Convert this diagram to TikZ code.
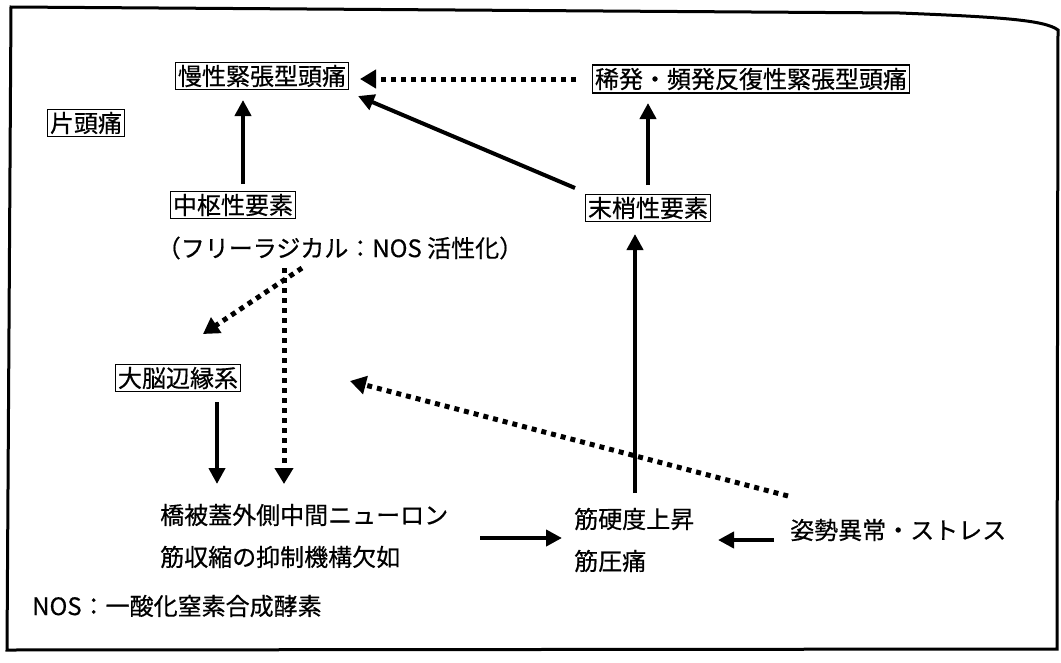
\documentclass[tikz,border=0pt]{standalone}
\usepackage{fontspec}
\setmainfont{Noto Sans CJK JP}[FakeBold=0.5]
\usetikzlibrary{arrows.meta}
\tikzset{
  txt/.style={inner sep=2pt, font=\fontsize{24}{42}\selectfont},
  boxed/.style={txt, draw, line width=1.8pt, inner sep=2.5pt},
  solidarrow/.style={line width=4pt, -{Triangle[length=16pt,width=16pt]}},
  dotarrow/.style={line width=5pt, dash pattern=on 5pt off 5pt, -{Triangle[length=16pt,width=18pt]}},
}
\begin{document}
\begin{tikzpicture}[x=1pt,y=-1pt]
\useasboundingbox (0,0) rectangle (1061,662);
\fill[white] (0,0) rectangle (1061,662);
\draw[line width=3pt] (11,7) -- (900,13) .. controls (1000,17) and (1045,20) .. (1058,30) -- (1057,649) -- (7,650) -- cycle;

\node[boxed] (chronic) at (262,76) {慢性緊張型頭痛};
\node[boxed] (episodic) at (751,79) {稀発・頻発反復性緊張型頭痛};
\node[boxed] (migraine) at (86,123) {片頭痛};
\node[boxed] (central) at (233,205) {中枢性要素};
\node[txt] (radical) at (340,248) {（フリーラジカル：NOS 活性化）};
\node[boxed] (peripheral) at (648,208) {末梢性要素};
\node[boxed] (limbic) at (178,378) {大脳辺縁系};
\node[txt, align=left, anchor=west] (pons) at (158,536) {橋被蓋外側中間ニューロン\\ 筋収縮の抑制機構欠如};
\node[txt, align=left, anchor=west] (muscle) at (572,540) {筋硬度上昇\\ 筋圧痛};
\node[txt, anchor=west] (posture) at (788,530) {姿勢異常・ストレス};
\node[txt, anchor=west] (nos) at (30,606) {NOS：一酸化窒素合成酵素};

\coordinate (c1) at (243,184);
\coordinate (c2) at (243,100);
\draw[solidarrow] (c1) -- (c2);
\coordinate (p1) at (575,188);
\coordinate (p2) at (358,96);
\draw[solidarrow] (p1) -- (p2);
\coordinate (d1) at (576,79);
\coordinate (d2) at (360,79);
\draw[dotarrow] (d1) -- (d2);
\coordinate (e1) at (648,185);
\coordinate (e2) at (648,103);
\draw[solidarrow] (e1) -- (e2);
\coordinate (m1) at (635,493);
\coordinate (m2) at (635,234);
\draw[solidarrow] (m1) -- (m2);
\coordinate (r1) at (302,268);
\coordinate (r2) at (203,334);
\draw[dotarrow] (r1) -- (r2);
\coordinate (r3) at (284,268);
\coordinate (r4) at (284,484);
\draw[dotarrow] (r3) -- (r4);
\coordinate (l1) at (217,402);
\coordinate (l2) at (217,484);
\draw[solidarrow] (l1) -- (l2);
\coordinate (s1) at (788,496);
\coordinate (s2) at (350,381);
\draw[dotarrow] (s1) -- (s2);
\coordinate (h1) at (480,538);
\coordinate (h2) at (562,538);
\draw[solidarrow] (h1) -- (h2);
\coordinate (k1) at (774,540);
\coordinate (k2) at (718,540);
\draw[solidarrow] (k1) -- (k2);
\end{tikzpicture}
\end{document}
